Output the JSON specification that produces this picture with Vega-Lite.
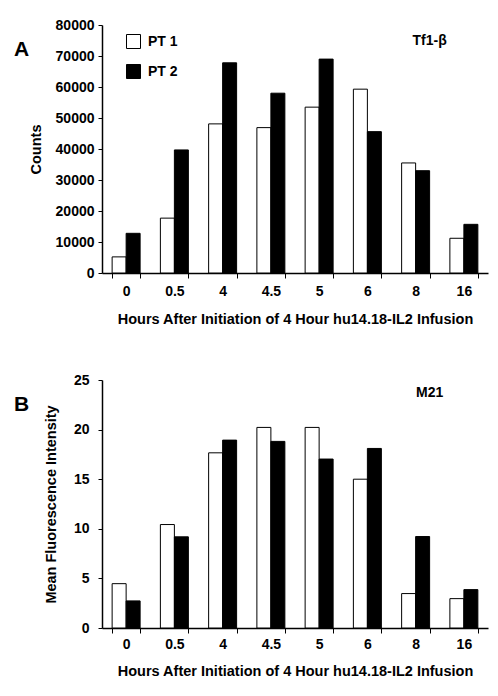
{
  "$schema": "https://vega.github.io/schema/vega-lite/v6.json",
  "background": "white",
  "padding": {"left": 14, "top": 18, "right": 8, "bottom": 8},
  "spacing": 47,
  "config": {
    "font": "Liberation Sans",
    "view": {"stroke": null},
    "axis": {
      "domainColor": "black",
      "tickColor": "black",
      "labelColor": "black",
      "titleColor": "black",
      "labelFont": "Liberation Sans",
      "titleFont": "Liberation Sans",
      "labelFontWeight": "bold",
      "titleFontWeight": "bold",
      "labelFontSize": 14,
      "titleFontSize": 14.5,
      "labelOverlap": false,
      "grid": false
    },
    "legend": {
      "labelFont": "Liberation Sans",
      "labelFontSize": 14,
      "labelFontWeight": "bold",
      "labelColor": "black"
    },
    "title": {"font": "Liberation Sans", "fontSize": 21, "fontWeight": "bold", "color": "black"}
  },
  "datasets": {
    "counts": [
      {"hour": "0", "patient": "PT 1", "value": 5200},
      {"hour": "0", "patient": "PT 2", "value": 12800},
      {"hour": "0.5", "patient": "PT 1", "value": 17700},
      {"hour": "0.5", "patient": "PT 2", "value": 39700},
      {"hour": "4", "patient": "PT 1", "value": 48100},
      {"hour": "4", "patient": "PT 2", "value": 67800},
      {"hour": "4.5", "patient": "PT 1", "value": 46900},
      {"hour": "4.5", "patient": "PT 2", "value": 58000},
      {"hour": "5", "patient": "PT 1", "value": 53500},
      {"hour": "5", "patient": "PT 2", "value": 69000},
      {"hour": "6", "patient": "PT 1", "value": 59300},
      {"hour": "6", "patient": "PT 2", "value": 45600},
      {"hour": "8", "patient": "PT 1", "value": 35500},
      {"hour": "8", "patient": "PT 2", "value": 33000},
      {"hour": "16", "patient": "PT 1", "value": 11200},
      {"hour": "16", "patient": "PT 2", "value": 15700}
    ],
    "mfi": [
      {"hour": "0", "patient": "PT 1", "value": 4.47},
      {"hour": "0", "patient": "PT 2", "value": 2.73},
      {"hour": "0.5", "patient": "PT 1", "value": 10.43},
      {"hour": "0.5", "patient": "PT 2", "value": 9.19},
      {"hour": "4", "patient": "PT 1", "value": 17.66},
      {"hour": "4", "patient": "PT 2", "value": 18.94},
      {"hour": "4.5", "patient": "PT 1", "value": 20.22},
      {"hour": "4.5", "patient": "PT 2", "value": 18.81},
      {"hour": "5", "patient": "PT 1", "value": 20.22},
      {"hour": "5", "patient": "PT 2", "value": 17.03},
      {"hour": "6", "patient": "PT 1", "value": 15.0},
      {"hour": "6", "patient": "PT 2", "value": 18.1},
      {"hour": "8", "patient": "PT 1", "value": 3.47},
      {"hour": "8", "patient": "PT 2", "value": 9.22},
      {"hour": "16", "patient": "PT 1", "value": 2.96},
      {"hour": "16", "patient": "PT 2", "value": 3.87}
    ],
    "labelA": [{"hour": "8", "value": 74800, "label": "Tf1-β"}],
    "labelB": [{"hour": "8", "value": 23.7, "label": "M21"}]
  },
  "vconcat": [
    {
      "width": 386,
      "height": 248,
      "title": {"text": "A", "anchor": "start", "frame": "group", "dx": -88, "dy": 46},
      "encoding": {
        "x": {
          "field": "hour", "type": "nominal",
          "scale": {"domain": ["0", "0.5", "4", "4.5", "5", "6", "8", "16"], "paddingInner": 0.42, "paddingOuter": 0.21},
          "axis": {"title": "Hours After Initiation of 4 Hour hu14.18-IL2 Infusion", "labelAngle": 0, "tickBand": "extent", "tickSize": 5, "labelPadding": 6, "titlePadding": 14, "domainWidth": 1.5}
        },
        "y": {
          "field": "value", "type": "quantitative",
          "scale": {"domain": [0, 80000]},
          "axis": {"title": "Counts", "format": "d", "values": [0, 10000, 20000, 30000, 40000, 50000, 60000, 70000, 80000], "labelOverlap": false, "tickSize": 4, "labelPadding": 4, "titlePadding": 12, "domainWidth": 1.5}
        }
      },
      "layer": [
        {
          "data": {"name": "counts"},
          "mark": {"type": "bar", "stroke": "black", "strokeWidth": 1},
          "encoding": {
            "xOffset": {"field": "patient", "type": "nominal", "sort": ["PT 1", "PT 2"]},
            "fill": {
              "field": "patient", "type": "nominal",
              "scale": {"domain": ["PT 1", "PT 2"], "range": ["white", "black"]},
              "legend": {"title": null, "orient": "none", "legendX": 24, "legendY": 9, "symbolType": "square", "symbolSize": 196, "symbolStrokeColor": "black", "symbolStrokeWidth": 1, "rowPadding": 11, "labelOffset": 7, "padding": 0}
            }
          }
        },
        {
          "data": {"name": "labelA"},
          "mark": {"type": "text", "fontSize": 14, "fontWeight": "bold", "font": "Liberation Sans", "dx": 14, "color": "black"},
          "encoding": {
            "text": {"field": "label"}
          }
        }
      ]
    },
    {
      "width": 386,
      "height": 248,
      "title": {"text": "B", "anchor": "start", "frame": "group", "dx": -88, "dy": 46},
      "encoding": {
        "x": {
          "field": "hour", "type": "nominal",
          "scale": {"domain": ["0", "0.5", "4", "4.5", "5", "6", "8", "16"], "paddingInner": 0.42, "paddingOuter": 0.21},
          "axis": {"title": "Hours After Initiation of 4 Hour hu14.18-IL2 Infusion", "labelAngle": 0, "tickBand": "extent", "tickSize": 5, "labelPadding": 4, "titlePadding": 13, "domainWidth": 1.5}
        },
        "y": {
          "field": "value", "type": "quantitative",
          "scale": {"domain": [0, 25]},
          "axis": {"title": "Mean Fluorescence Intensity", "values": [0, 5, 10, 15, 20, 25], "labelOverlap": false, "tickSize": 4, "labelPadding": 9, "titlePadding": 15, "domainWidth": 1.5}
        }
      },
      "layer": [
        {
          "data": {"name": "mfi"},
          "mark": {"type": "bar", "stroke": "black", "strokeWidth": 1},
          "encoding": {
            "xOffset": {"field": "patient", "type": "nominal", "sort": ["PT 1", "PT 2"]},
            "fill": {
              "field": "patient", "type": "nominal",
              "scale": {"domain": ["PT 1", "PT 2"], "range": ["white", "black"]},
              "legend": {"title": null, "orient": "none", "legendX": 24, "legendY": 6, "symbolType": "square", "symbolSize": 196, "symbolStrokeColor": "black", "symbolStrokeWidth": 1, "rowPadding": 11, "labelOffset": 7, "padding": 0}
            }
          }
        },
        {
          "data": {"name": "labelB"},
          "mark": {"type": "text", "fontSize": 14, "fontWeight": "bold", "font": "Liberation Sans", "dx": 14, "color": "black"},
          "encoding": {
            "text": {"field": "label"}
          }
        }
      ]
    }
  ]
}
